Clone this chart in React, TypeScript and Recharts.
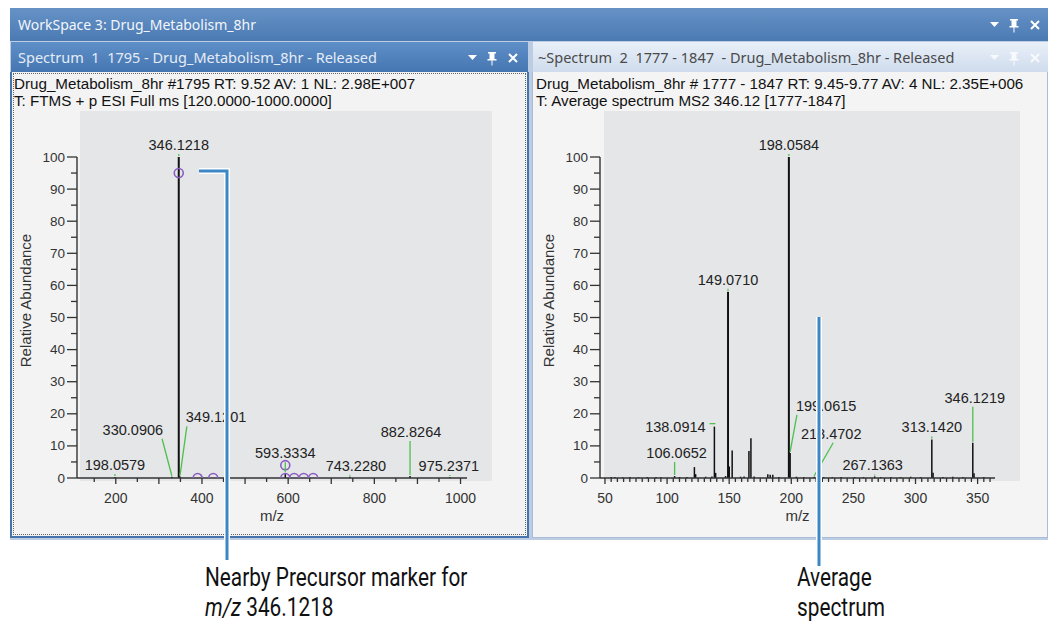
import React from "react";
import { ComposedChart, XAxis, YAxis, Scatter, ReferenceLine, Label } from "recharts";

// ---- Spectrum 1: full scan #1795 ----
const spec1Mz = [198.0579, 330.0906, 346.1218, 349.1201, 593.3334, 743.228, 882.8264, 975.2371];
const spec1Abundance = [0.3, 0.4, 100, 0.5, 1.5, 0.4, 0.6, 0.3];
const spec1Labels = ["198.0579", "330.0906", "346.1218", "349.1201", "593.3334", "743.2280", "882.8264", "975.2371"];

// nearby precursor markers (purple circles)
const spec1MarkerMz = [346.1218, 390, 426, 593.3334, 593.3334, 614, 636, 658];
const spec1MarkerLevel = [95, 0, 0, 4, 0, 0, 0, 0];

// ---- Spectrum 2: average MS2 of 346.12 ----
const spec2Mz = [
  55.1, 58.0, 64.2, 70.1, 77.0, 84.1, 91.1, 95.0, 106.0652, 110.1, 116.0, 122.0, 123.0, 131.1, 136.1,
  138.0914, 139.09, 147.1, 149.071, 150.07, 152.4, 159.1, 162.0, 165.9, 167.5, 170.1, 181.1, 183.0,
  185.1, 190.0, 198.0584, 199.0615, 204.1, 210.0, 218.4702, 226.1, 233.0, 240.1, 251.0, 258.1,
  267.1363, 272.0, 280.1, 288.0, 296.1, 304.0, 313.142, 314.14, 322.1, 330.0, 338.1, 346.1219,
  347.12, 355.0,
];
const spec2Abundance = [
  0.3, 0.3, 0.2, 0.3, 0.2, 0.3, 0.3, 0.2, 0.6, 0.3, 0.3, 3.4, 1.2, 0.4, 0.5,
  16, 1.6, 0.6, 58, 3.6, 8.6, 0.4, 0.5, 8.4, 12.4, 0.5, 1.2, 1.0,
  1.0, 0.3, 100, 7.8, 0.4, 0.3, 0.4, 0.3, 0.3, 0.3, 0.3, 0.3,
  0.5, 0.3, 0.3, 0.3, 0.4, 0.3, 12, 1.6, 0.3, 0.4, 0.3, 11,
  1.5, 0.3,
];
const spec2Labels = ["106.0652", "138.0914", "149.0710", "198.0584", "199.0615", "218.4702", "267.1363", "313.1420", "346.1219"];

const yTickValues = [0, 5, 10, 15, 20, 25, 30, 35, 40, 45, 50, 55, 60, 65, 70, 75, 80, 85, 90, 95, 100];

function range(a: number, b: number, step: number) {
  const out: number[] = [];
  for (let v = a; v <= b + 1e-9; v += step) out.push(Math.round(v * 100) / 100);
  return out;
}
const spec1XTicks = range(150, 1000, 50);
const spec2XTicks = range(50, 360, 5);

// label placement: pixel offset of the label centre from the peak top (default straight above),
// optional third value = where the green leader leaves the label (offset from label centre)
const labelOffsets: Record<string, number[]> = {
  "198.0579": [0, -12],
  "330.0906": [-39, -47],
  "349.1201": [36, -59],
  "593.3334": [0, -20],
  "743.2280": [6, -11],
  "882.8264": [1, -44],
  "975.2371": [-1, -11],
  "106.0652": [2, -23],
  "138.0914": [-39, 0],
  "199.0615": [36, -47],
  "218.4702": [17, -43, 2],
  "267.1363": [-2, -11],
  "346.1219": [2, -45],
};

const CHART_FONT = "'Liberation Sans', Arial, sans-serif";
const AXIS_COLOR = "#333";
const LEADER = "#4cc04c";

function PeakLabel(props: any) {
  const { cx, cy, payload } = props;
  const off = labelOffsets[payload.label] ?? [0, -12];
  const [dx, dy] = off;
  const lx = cx + dx;
  const ly = cy + dy;
  const halfW = payload.label.length * 3.9;
  let conn = null;
  if (Math.abs(dy) < 6) {
    const sx = dx < 0 ? lx + halfW + 3 : lx - halfW - 3;
    conn = <line x1={sx} y1={ly - 3} x2={cx - Math.sign(dx)} y2={ly - 3} stroke={LEADER} strokeWidth={1.3} />;
  } else {
    const sx = off.length > 2 ? lx + off[2] : Math.min(Math.max(cx, lx - halfW + 2), lx + halfW - 2);
    conn = <line x1={sx} y1={ly + 9} x2={cx} y2={cy - 1} stroke={LEADER} strokeWidth={1.3} />;
  }
  return (
    <g>
      {conn}
      <text x={lx} y={ly} textAnchor="middle" dominantBaseline="central" fontSize={14.5} fontFamily={CHART_FONT} fill="#222">
        {payload.label}
      </text>
    </g>
  );
}

function MarkerShape(props: any) {
  const { cx, cy, payload } = props;
  const r = 4.5;
  if (payload.v > 0) {
    return <circle cx={cx} cy={cy} r={r} fill="none" stroke="#8a5cc0" strokeWidth={1.6} />;
  }
  return <path d={`M${cx - r},${cy} A${r},${r} 0 0 1 ${cx + r},${cy}`} fill="none" stroke="#8a5cc0" strokeWidth={1.6} />;
}

function renderYTick(props: any) {
  const { x, y, payload } = props;
  const v = payload.value;
  const major = v % 10 === 0;
  return (
    <g>
      <line x1={x} x2={x - (major ? 10 : 6)} y1={y} y2={y} stroke={AXIS_COLOR} strokeWidth={1.3} />
      {major && (
        <text x={x - 12} y={y} textAnchor="end" dominantBaseline="central" fontSize={13.5} fontFamily={CHART_FONT} fill={AXIS_COLOR}>
          {v}
        </text>
      )}
    </g>
  );
}

function makeXTick(labelEvery: number, majorEvery: number) {
  return (props: any) => {
    const { x, y, payload } = props;
    const v = payload.value;
    const major = v % majorEvery === 0;
    const labelled = v % labelEvery === 0;
    return (
      <g>
        <line x1={x} x2={x} y1={y} y2={y + (major ? 6 : 4)} stroke={AXIS_COLOR} strokeWidth={1.3} />
        {labelled && (
          <text x={x} y={y + 20} textAnchor="middle" dominantBaseline="central" fontSize={14} fontFamily={CHART_FONT} fill={AXIS_COLOR}>
            {v}
          </text>
        )}
      </g>
    );
  };
}

type SpecProps = {
  mz: number[];
  ab: number[];
  labels: string[];
  markerMz?: number[];
  markerLevel?: number[];
  domain: [number, number];
  xTicks: number[];
  labelEvery: number;
  majorEvery: number;
  width: number;
  height: number;
  margin: { top: number; right: number; bottom: number; left: number };
};

function SpectrumChart(p: SpecProps) {
  const peaks = p.mz.map((m, i) => ({ mz: m, v: p.ab[i] }));
  const labelled = p.labels.map((l) => {
    const i = p.mz.findIndex((m) => m.toFixed(4) === l);
    return { mz: p.mz[i], v: p.ab[i], label: l };
  });
  const markers = (p.markerMz || []).map((m, i) => ({ mz: m, v: (p.markerLevel || [])[i] }));

  return (
    <ComposedChart width={p.width} height={p.height} margin={p.margin}>
      <XAxis
        type="number"
        dataKey="mz"
        domain={p.domain}
        ticks={p.xTicks}
        interval={0}
        tickSize={0}
        tickMargin={0}
        tickLine={false}
        axisLine={{ stroke: AXIS_COLOR, strokeWidth: 1.4 }}
        tick={makeXTick(p.labelEvery, p.majorEvery)}
        height={40}
      >
        <Label
          content={({ viewBox }: any) => (
            <text x={viewBox.x + viewBox.width / 2} y={viewBox.y + 37} textAnchor="middle" dominantBaseline="central" fontSize={15} fontFamily={CHART_FONT} fill={AXIS_COLOR}>
              m/z
            </text>
          )}
        />
      </XAxis>
      <YAxis
        type="number"
        domain={[0, 100]}
        ticks={yTickValues}
        interval={0}
        tickSize={0}
        tickMargin={0}
        tickLine={false}
        axisLine={{ stroke: AXIS_COLOR, strokeWidth: 1.4 }}
        tick={renderYTick}
        width={53}
      >
        <Label
          content={({ viewBox }: any) => {
            const cx = viewBox.x + 1;
            const cy = viewBox.y + viewBox.height / 2 - 17;
            return (
              <text x={cx} y={cy} transform={`rotate(-90, ${cx}, ${cy})`} textAnchor="middle" dominantBaseline="central" fontSize={15} fontFamily={CHART_FONT} fill={AXIS_COLOR}>
                Relative Abundance
              </text>
            );
          }}
        />
      </YAxis>
      {peaks.map((pk, i) => (
        <ReferenceLine
          key={`pk-${i}`}
          segment={[{ x: pk.mz, y: 0 }, { x: pk.mz, y: pk.v }]}
          stroke="#111"
          strokeWidth={pk.v > 50 ? 2 : 1.5}
        />
      ))}
      <Scatter data={markers} dataKey="v" shape={MarkerShape} isAnimationActive={false} />
      <Scatter data={labelled} dataKey="v" shape={PeakLabel} isAnimationActive={false} />
    </ComposedChart>
  );
}

function PaneIcons({ x, y, color }: { x: number; y: number; color: string }) {
  return (
    <svg style={{ position: "absolute", left: x, top: y }} width={56} height={16}>
      <path d="M0,5 L9,5 L4.5,10 Z" fill={color} />
      <path d="M20,2 h8 v1.5 h-1.5 v5.5 h2 v1.5 h-4 v5 h-1 v-5 h-4 v-1.5 h2 v-5.5 h-1.5 z" fill={color} />
      <path d="M41,4 L49,12 M49,4 L41,12" stroke={color} strokeWidth={2} />
    </svg>
  );
}

const UI_FONT = "'Noto Sans', 'Open Sans', sans-serif";
const NOTE_STYLE: React.CSSProperties = {
  position: "absolute",
  top: 562,
  fontFamily: "Roboto, sans-serif",
  fontSize: 26,
  lineHeight: "30px",
  color: "#111",
  whiteSpace: "nowrap",
  transform: "scaleX(0.8)",
  transformOrigin: "left top",
};

export default function App() {
  return (
    <div style={{ position: "absolute", left: 0, top: 0, width: 1048, height: 625, background: "#fff", overflow: "hidden" }}>
      {/* window frame */}
      <div style={{ position: "absolute", left: 10, top: 8, width: 1038, height: 532, background: "#bccde3" }} />

      {/* workspace title bar */}
      <div
        style={{
          position: "absolute", left: 10, top: 8, width: 1038, height: 33,
          background: "linear-gradient(#6692c6, #4b7ab3)",
          color: "#f2f6fb", fontFamily: UI_FONT, fontSize: 14, lineHeight: "33px", paddingLeft: 8, boxSizing: "border-box",
        }}
      >
        WorkSpace 3: Drug_Metabolism_8hr
      </div>
      <PaneIcons x={990} y={17} color="#ffffff" />

      {/* left pane header */}
      <div
        style={{
          position: "absolute", left: 11, top: 42, width: 517, height: 30,
          background: "linear-gradient(#5e8fc8, #4676b1)",
          color: "#e4ecf7", fontFamily: UI_FONT, fontSize: 14.5, lineHeight: "30px", paddingLeft: 7, boxSizing: "border-box", whiteSpace: "pre",
        }}
      >
        {"Spectrum  1  1795 - Drug_Metabolism_8hr - Released"}
      </div>
      <PaneIcons x={468} y={50} color="#ffffff" />

      {/* right pane header */}
      <div
        style={{
          position: "absolute", left: 533, top: 42, width: 515, height: 30,
          background: "linear-gradient(#e9f0f8, #cfdced)",
          color: "#4a4a4a", fontFamily: UI_FONT, fontSize: 14.5, lineHeight: "30px", paddingLeft: 5, boxSizing: "border-box", whiteSpace: "pre",
        }}
      >
        {"~Spectrum  2  1777 - 1847  - Drug_Metabolism_8hr - Released"}
      </div>
      <PaneIcons x={990} y={50} color="#f7f9fc" />

      {/* left pane body */}
      <div
        style={{
          position: "absolute", left: 10, top: 72, width: 519, height: 466,
          background: "#f3f3f3", borderLeft: "2px solid #4674ad", borderRight: "2px solid #4674ad", borderBottom: "2px solid #4674ad", boxSizing: "border-box",
        }}
      >
        <div style={{ position: "absolute", left: 1, top: 1, right: 1, bottom: 1, border: "1px dotted #666" }} />
      </div>
      {/* right pane body */}
      <div
        style={{
          position: "absolute", left: 532, top: 72, width: 516, height: 466,
          background: "#f4f4f4", border: "1px solid #a9bdd6", borderTop: "none", boxSizing: "border-box",
        }}
      />

      {/* plot backgrounds */}
      <div style={{ position: "absolute", left: 80, top: 111, width: 412, height: 370, background: "#e5e6e8" }} />
      <div style={{ position: "absolute", left: 604, top: 111, width: 416, height: 370, background: "#e5e6e8" }} />

      {/* info lines */}
      <div style={{ position: "absolute", left: 14, top: 75, fontFamily: CHART_FONT, fontSize: 15.2, lineHeight: "17px", color: "#111", whiteSpace: "pre" }}>
        {"Drug_Metabolism_8hr #1795 RT: 9.52 AV: 1 NL: 2.98E+007\nT: FTMS + p ESI Full ms [120.0000-1000.0000]"}
      </div>
      <div style={{ position: "absolute", left: 536, top: 75, fontFamily: CHART_FONT, fontSize: 15.2, lineHeight: "17px", color: "#111", whiteSpace: "pre" }}>
        {"Drug_Metabolism_8hr # 1777 - 1847 RT: 9.45-9.77 AV: 4 NL: 2.35E+006\nT: Average spectrum MS2 346.12 [1777-1847]"}
      </div>

      {/* charts */}
      <div style={{ position: "absolute", left: 12, top: 111 }}>
        <SpectrumChart
          mz={spec1Mz}
          ab={spec1Abundance}
          labels={spec1Labels}
          markerMz={spec1MarkerMz}
          markerLevel={spec1MarkerLevel}
          domain={[110, 1015]}
          xTicks={spec1XTicks}
          labelEvery={200}
          majorEvery={100}
          width={515}
          height={420}
          margin={{ top: 46, right: 60, bottom: 13, left: 12 }}
        />
      </div>
      <div style={{ position: "absolute", left: 533, top: 111 }}>
        <SpectrumChart
          mz={spec2Mz}
          ab={spec2Abundance}
          labels={spec2Labels}
          domain={[46, 364]}
          xTicks={spec2XTicks}
          labelEvery={50}
          majorEvery={50}
          width={514}
          height={420}
          margin={{ top: 46, right: 52, bottom: 13, left: 14 }}
        />
      </div>

      {/* callouts */}
      <svg style={{ position: "absolute", left: 0, top: 0 }} width={1048} height={625}>
        <polyline points="199,171 227,171 227,560" fill="none" stroke="#ffffff" strokeWidth={6} />
        <polyline points="199,171 227,171 227,560" fill="none" stroke="#3d86c6" strokeWidth={3} />
        <line x1={819} y1={317} x2={819} y2={566} stroke="#ffffff" strokeWidth={6} />
        <line x1={819} y1={317} x2={819} y2={566} stroke="#3d86c6" strokeWidth={3} />
      </svg>
      <div style={{ ...NOTE_STYLE, left: 205 }}>
        Nearby Precursor marker for
        <br />
        <i>m/z</i> 346.1218
      </div>
      <div style={{ ...NOTE_STYLE, left: 797 }}>
        Average
        <br />
        spectrum
      </div>
    </div>
  );
}
